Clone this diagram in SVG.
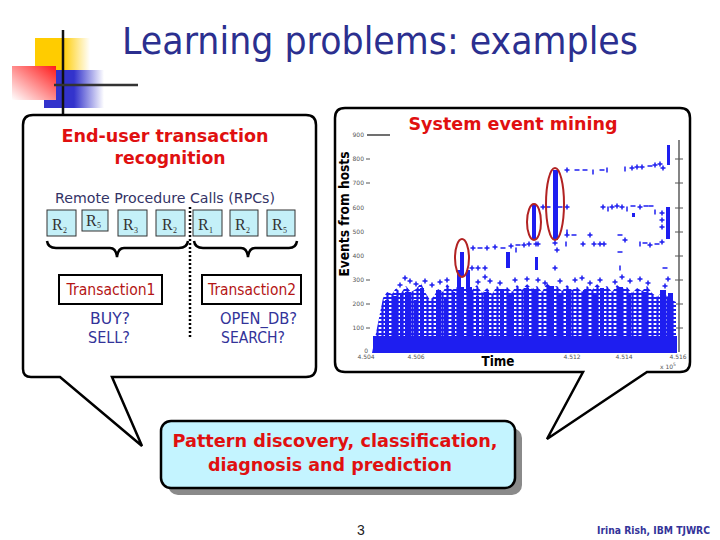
<svg xmlns="http://www.w3.org/2000/svg" width="720" height="540" viewBox="0 0 720 540">
<style>
.callout{fill:#fff;stroke:#000;stroke-width:2.5;stroke-linejoin:miter}
.rbox{fill:#c4f0f8;stroke:#333;stroke-width:1}
.rt{font-family:"Liberation Serif",serif;font-size:16px;fill:#333}
.rs{font-family:"Liberation Serif",serif;font-size:8px;fill:#333}
.sans{font-family:"DejaVu Sans","Liberation Sans",sans-serif}
.red{fill:#e01010;font-weight:bold}
.navy{fill:#333399}
.tbox{fill:#fff;stroke:#000;stroke-width:2}
.ttext{fill:#b41414;font-size:15px}
.ylab{font-family:"DejaVu Sans",sans-serif;font-size:6px;fill:#555;text-anchor:end}
.xlab{font-family:"DejaVu Sans",sans-serif;font-size:6px;fill:#555;text-anchor:middle}
.pt{stroke:#1e1ef0;stroke-width:1.5;fill:none}
.bar{fill:#1e1ef0}
.ell{fill:none;stroke:#b22222;stroke-width:2}
.tick{stroke:#555;stroke-width:1}
</style>
<defs>
<linearGradient id="gy" x1="0" y1="0" x2="1" y2="0"><stop offset="0" stop-color="#ffcc00"/><stop offset="0.5" stop-color="#ffcc00"/><stop offset="1" stop-color="#ffffff"/></linearGradient>
<linearGradient id="gb" x1="0" y1="0" x2="1" y2="0"><stop offset="0" stop-color="#3333cc"/><stop offset="0.5" stop-color="#3333cc"/><stop offset="1" stop-color="#ffffff"/></linearGradient>
<linearGradient id="gr" x1="1" y1="0" x2="0" y2="1"><stop offset="0" stop-color="#ff1a1a"/><stop offset="1" stop-color="#ffffff"/></linearGradient>
<pattern id="hatch" width="5" height="4" patternUnits="userSpaceOnUse"><rect width="5" height="4" fill="#fff"/><path d="M0 2H5M2.5 0V4" stroke="#1e1ef0" stroke-width="2.2"/></pattern>
<path id="pl" d="M-2.5 0H2.5M0 -2.5V2.5" class="pt"/>
<path id="ds" d="M-2.5 0H2.5" class="pt"/>
<path id="vs" d="M0 -2.5V2.5" class="pt"/>
</defs>
<rect width="720" height="540" fill="#fff"/>

<g id="logo">
<rect x="35" y="38" width="55" height="33" fill="url(#gy)"/>
<rect x="44" y="70" width="60" height="38" fill="url(#gb)"/>
<rect x="12" y="66" width="44" height="34" fill="url(#gr)"/>
<line x1="63" y1="30" x2="63" y2="115" stroke="#111" stroke-width="2.5"/>
<line x1="54" y1="85" x2="138" y2="85" stroke="#333" stroke-width="2.5"/>
</g>

<g id="title">
<text x="122" y="54" class="sans" font-size="37" fill="#2b2f8f" textLength="516" lengthAdjust="spacingAndGlyphs">Learning problems: examples</text>
</g>

<g id="left-callout">
<path class="callout" d="M33,115 H306 Q316,115 316,125 V367 Q316,377 306,377 H112 L142,446 L60,377 H31 Q23,377 23,369 V125 Q23,115 33,115 Z"/>
<text x="165" y="142" class="sans red" font-size="18" text-anchor="middle" textLength="207" lengthAdjust="spacingAndGlyphs">End-user transaction</text>
<text x="170" y="164" class="sans red" font-size="18" text-anchor="middle" textLength="111" lengthAdjust="spacingAndGlyphs">recognition</text>
<text x="55" y="203" class="sans" font-size="14.5" fill="#333366" textLength="220" lengthAdjust="spacingAndGlyphs">Remote Procedure Calls (RPCs)</text>
</g>

<g id="rpc-boxes">
<g id="r1"><rect class="rbox" x="47" y="210" width="29" height="26"/><text class="rt" x="52" y="230">R</text><text class="rs" x="63" y="233">2</text></g>
<g id="r2"><rect class="rbox" x="82" y="210" width="26" height="21"/><text class="rt" x="86" y="226">R</text><text class="rs" x="97" y="228">5</text></g>
<g id="r3"><rect class="rbox" x="118" y="210" width="29" height="26"/><text class="rt" x="123" y="230">R</text><text class="rs" x="134" y="233">3</text></g>
<g id="r4"><rect class="rbox" x="156" y="210" width="29" height="26"/><text class="rt" x="162" y="230">R</text><text class="rs" x="173" y="233">2</text></g>
<g id="r5"><rect class="rbox" x="193" y="210" width="29" height="26"/><text class="rt" x="198" y="230">R</text><text class="rs" x="209" y="233">1</text></g>
<g id="r6"><rect class="rbox" x="230" y="210" width="28" height="26"/><text class="rt" x="235" y="230">R</text><text class="rs" x="246" y="233">2</text></g>
<g id="r7"><rect class="rbox" x="267" y="210" width="28" height="26"/><text class="rt" x="272" y="230">R</text><text class="rs" x="283" y="233">5</text></g>
</g>

<g id="connectors" fill="none" stroke="#000">
<path stroke-width="2.5" d="M47,241 Q48,248 56,248 H110 Q116,248 117,257 Q118,248 124,248 H179 Q187,248 188,241"/>
<path stroke-width="2.5" d="M194,241 Q195,248 203,248 H241 Q247,248 248,257 Q249,248 255,248 H289 Q296,248 297,241"/>
<line x1="190" y1="207" x2="190" y2="339" stroke-width="2.5" stroke-dasharray="2,2"/>
</g>

<g id="transaction1">
<rect class="tbox" x="59" y="275" width="103" height="29"/>
<text x="111" y="295" class="sans ttext" text-anchor="middle" textLength="89" lengthAdjust="spacingAndGlyphs">Transaction1</text>
<text x="90" y="324" class="sans navy" font-size="15" textLength="40" lengthAdjust="spacingAndGlyphs">BUY?</text>
<text x="88" y="343" class="sans navy" font-size="15" textLength="42" lengthAdjust="spacingAndGlyphs">SELL?</text>
</g>
<g id="transaction2">
<rect class="tbox" x="202" y="275" width="99" height="29"/>
<text x="252" y="295" class="sans ttext" text-anchor="middle" textLength="88" lengthAdjust="spacingAndGlyphs">Transaction2</text>
<text x="220" y="324" class="sans navy" font-size="15" textLength="77" lengthAdjust="spacingAndGlyphs">OPEN_DB?</text>
<text x="221" y="343" class="sans navy" font-size="15" textLength="64" lengthAdjust="spacingAndGlyphs">SEARCH?</text>
</g>

<g id="right-callout">
<path class="callout" d="M345,108 H680 Q690,108 690,118 V362 Q690,372 680,372 H647 L547,439 L583,372 H345 Q335,372 335,362 V118 Q335,108 345,108 Z"/>
<text x="513" y="130" class="sans red" font-size="18" text-anchor="middle" textLength="209" lengthAdjust="spacingAndGlyphs">System event mining</text>
<text transform="translate(349,214) rotate(-90)" class="sans" font-size="13.5" font-weight="bold" fill="#000" text-anchor="middle" textLength="125" lengthAdjust="spacingAndGlyphs">Events from hosts</text>
</g>

<g id="chart">
<line x1="367" y1="135" x2="390" y2="135" stroke="#111" stroke-width="1.2"/>
<line x1="679" y1="140" x2="679" y2="352" stroke="#333" stroke-width="1.2"/>
<g class="tick">
<path d="M675 159H683M675 183H683M675 208H683M675 232H683M675 256H683M675 280H683M675 304H683M675 328H683"/>
<path d="M366 159H370M366 183H370M366 280H370M366 304H370M366 328H370"/>
</g>
<g id="ylabels">
<text class="ylab" x="364" y="137">900</text>
<text class="ylab" x="364" y="161">800</text>
<text class="ylab" x="364" y="185">700</text>
<text class="ylab" x="364" y="210">600</text>
<text class="ylab" x="364" y="234">500</text>
<text class="ylab" x="364" y="258">400</text>
<text class="ylab" x="364" y="282">300</text>
<text class="ylab" x="364" y="306">200</text>
<text class="ylab" x="364" y="330">100</text>
<text class="ylab" x="368" y="353">0</text>
</g>
<g id="xlabels">
<text class="xlab" x="366" y="359">4.504</text>
<text class="xlab" x="416" y="359">4.506</text>
<text class="xlab" x="572" y="359">4.512</text>
<text class="xlab" x="624" y="359">4.514</text>
<text class="xlab" x="678" y="359">4.516</text>
<text class="xlab" x="668" y="369">x 10<tspan font-size="4.5" dy="-3">5</tspan></text>
</g>

<polygon fill="url(#hatch)" points="372,353 383,298 387,292 392,294 396,288 401,293 406,286 411,292 416,289 421,283 425,292 430,300 434,296 438,289 443,292 447,284 452,290 457,287 462,291 467,286 472,290 477,285 482,293 487,288 492,294 497,286 502,291 507,287 512,292 517,285 522,290 527,284 532,289 537,286 542,292 547,283 552,288 557,286 562,291 567,285 572,290 577,287 582,292 587,286 592,290 597,284 602,289 607,286 612,292 617,285 622,289 627,287 632,293 637,288 642,291 647,286 652,293 657,297 662,292 667,296 672,300 676,302 676,353"/>
<rect class="bar" x="373" y="336" width="304" height="17"/>
<g id="bars" class="bar">
<rect x="385" y="300" width="4" height="40"/><rect x="392" y="296" width="5" height="44"/><rect x="400" y="295" width="3" height="45"/>
<rect x="405" y="292" width="6" height="48"/><rect x="414" y="300" width="3" height="40"/><rect x="420" y="288" width="4" height="52"/>
<rect x="436" y="290" width="5" height="50"/><rect x="444" y="297" width="4" height="43"/><rect x="452" y="292" width="3" height="48"/>
<rect x="458" y="287" width="6" height="53"/><rect x="467" y="287" width="5" height="53"/><rect x="476" y="296" width="3" height="44"/>
<rect x="484" y="292" width="5" height="48"/><rect x="500" y="289" width="4" height="51"/><rect x="508" y="295" width="6" height="45"/>
<rect x="524" y="288" width="5" height="52"/><rect x="533" y="291" width="4" height="49"/><rect x="548" y="286" width="6" height="54"/>
<rect x="558" y="293" width="4" height="47"/><rect x="566" y="289" width="5" height="51"/><rect x="583" y="290" width="4" height="50"/>
<rect x="592" y="295" width="5" height="45"/><rect x="600" y="288" width="4" height="52"/><rect x="618" y="287" width="5" height="53"/>
<rect x="627" y="294" width="4" height="46"/><rect x="642" y="292" width="5" height="48"/><rect x="660" y="290" width="6" height="50"/>
<rect x="668" y="293" width="5" height="47"/>
<rect x="457" y="270" width="4" height="22"/><rect x="466" y="270" width="4" height="22"/>
<rect x="460" y="252" width="4" height="24"/>
<rect x="532" y="205" width="4" height="35"/>
<rect x="553" y="170" width="5" height="70"/>
<rect x="667" y="145" width="3" height="20"/>
<rect x="666" y="207" width="4" height="32"/>
<rect x="506" y="252" width="4" height="16"/>
<rect x="535" y="257" width="3" height="13"/>
<rect x="632" y="213" width="3" height="4"/>
</g>
<g id="points">
<use href="#pl" x="400" y="285"/><use href="#pl" x="410" y="281"/><use href="#pl" x="416" y="284"/><use href="#pl" x="425" y="281"/>
<use href="#pl" x="440" y="282"/><use href="#pl" x="447" y="280"/><use href="#pl" x="478" y="282"/><use href="#pl" x="490" y="281"/>
<use href="#pl" x="500" y="283"/><use href="#pl" x="515" y="280"/><use href="#pl" x="527" y="279"/><use href="#pl" x="545" y="283"/>
<use href="#pl" x="560" y="281"/><use href="#pl" x="575" y="280"/><use href="#pl" x="590" y="283"/><use href="#pl" x="600" y="280"/>
<use href="#pl" x="615" y="282"/><use href="#pl" x="630" y="281"/><use href="#pl" x="648" y="283"/><use href="#pl" x="665" y="286"/>
<use href="#pl" x="668" y="279"/><use href="#pl" x="405" y="278"/><use href="#pl" x="432" y="285"/><use href="#pl" x="485" y="277"/>
<use href="#pl" x="538" y="280"/><use href="#pl" x="582" y="278"/><use href="#pl" x="622" y="277"/><use href="#pl" x="640" y="279"/>
<use href="#pl" x="473" y="248"/><use href="#ds" x="480" y="248"/><use href="#pl" x="487" y="248"/><use href="#pl" x="495" y="247"/>
<use href="#ds" x="503" y="248"/><use href="#pl" x="511" y="246"/><use href="#ds" x="518" y="245"/><use href="#pl" x="524" y="245"/>
<use href="#pl" x="529" y="244"/><use href="#pl" x="538" y="244"/><use href="#vs" x="516" y="250"/>
<use href="#pl" x="567" y="170"/><use href="#ds" x="577" y="170"/><use href="#ds" x="585" y="170"/><use href="#vs" x="593" y="172"/>
<use href="#ds" x="602" y="170"/><use href="#vs" x="607" y="170"/><use href="#vs" x="625" y="169"/><use href="#pl" x="632" y="168"/>
<use href="#pl" x="637" y="167"/><use href="#pl" x="642" y="167"/><use href="#ds" x="650" y="166"/><use href="#pl" x="655" y="165"/>
<use href="#pl" x="660" y="164"/><use href="#pl" x="663" y="168"/>
<use href="#pl" x="543" y="207"/><use href="#ds" x="548" y="207"/><use href="#ds" x="560" y="207"/><use href="#pl" x="567" y="207"/>
<use href="#pl" x="603" y="207"/><use href="#vs" x="608" y="209"/><use href="#pl" x="612" y="207"/><use href="#pl" x="617" y="206"/>
<use href="#pl" x="622" y="207"/><use href="#vs" x="627" y="209"/><use href="#ds" x="633" y="206"/><use href="#pl" x="640" y="207"/>
<use href="#ds" x="646" y="206"/><use href="#ds" x="651" y="206"/><use href="#vs" x="655" y="212"/><use href="#pl" x="662" y="213"/>
<use href="#pl" x="662" y="220"/><use href="#pl" x="662" y="227"/>
<use href="#pl" x="567" y="235"/><use href="#ds" x="574" y="235"/><use href="#pl" x="590" y="235"/><use href="#ds" x="620" y="235"/>
<use href="#pl" x="625" y="240"/><use href="#vs" x="567" y="232"/>
<use href="#vs" x="566" y="244"/><use href="#pl" x="583" y="244"/><use href="#pl" x="594" y="244"/><use href="#pl" x="600" y="244"/>
<use href="#pl" x="604" y="244"/><use href="#vs" x="640" y="244"/><use href="#ds" x="645" y="243"/><use href="#pl" x="650" y="245"/>
<use href="#pl" x="662" y="242"/><use href="#ds" x="657" y="244"/>
<use href="#pl" x="472" y="268"/><use href="#pl" x="478" y="268"/><use href="#pl" x="485" y="268"/><use href="#pl" x="555" y="268"/>
<use href="#vs" x="620" y="268"/><use href="#ds" x="665" y="268"/><use href="#pl" x="557" y="250"/><use href="#ds" x="620" y="252"/>
<use href="#pl" x="555" y="243"/><use href="#pl" x="536" y="244"/>
</g>
<ellipse class="ell" cx="462" cy="258" rx="7" ry="19"/>
<ellipse class="ell" cx="534" cy="222" rx="7" ry="18"/>
<ellipse class="ell" cx="555" cy="204" rx="9" ry="36"/>
<text x="498" y="366" class="sans" font-size="14" font-weight="bold" fill="#000" text-anchor="middle" textLength="33" lengthAdjust="spacingAndGlyphs">Time</text>
</g>

<g id="result-box">
<rect x="168" y="428" width="354" height="67" rx="10" fill="#8a8a8a"/>
<rect x="161" y="421" width="354" height="67" rx="10" fill="#c4f4ff" stroke="#000" stroke-width="2.5"/>
<text x="335" y="447" class="sans red" font-size="18" text-anchor="middle" textLength="325" lengthAdjust="spacingAndGlyphs">Pattern discovery, classification,</text>
<text x="330" y="471" class="sans red" font-size="18" text-anchor="middle" textLength="244" lengthAdjust="spacingAndGlyphs">diagnosis and prediction</text>
</g>

<g id="footer">
<text x="361" y="535" font-family="Liberation Sans, sans-serif" font-size="14" fill="#222" text-anchor="middle">3</text>
<text x="710" y="534" class="sans" font-size="10" font-weight="bold" fill="#333399" text-anchor="end" textLength="113" lengthAdjust="spacingAndGlyphs">Irina Rish, IBM TJWRC</text>
</g>
</svg>
